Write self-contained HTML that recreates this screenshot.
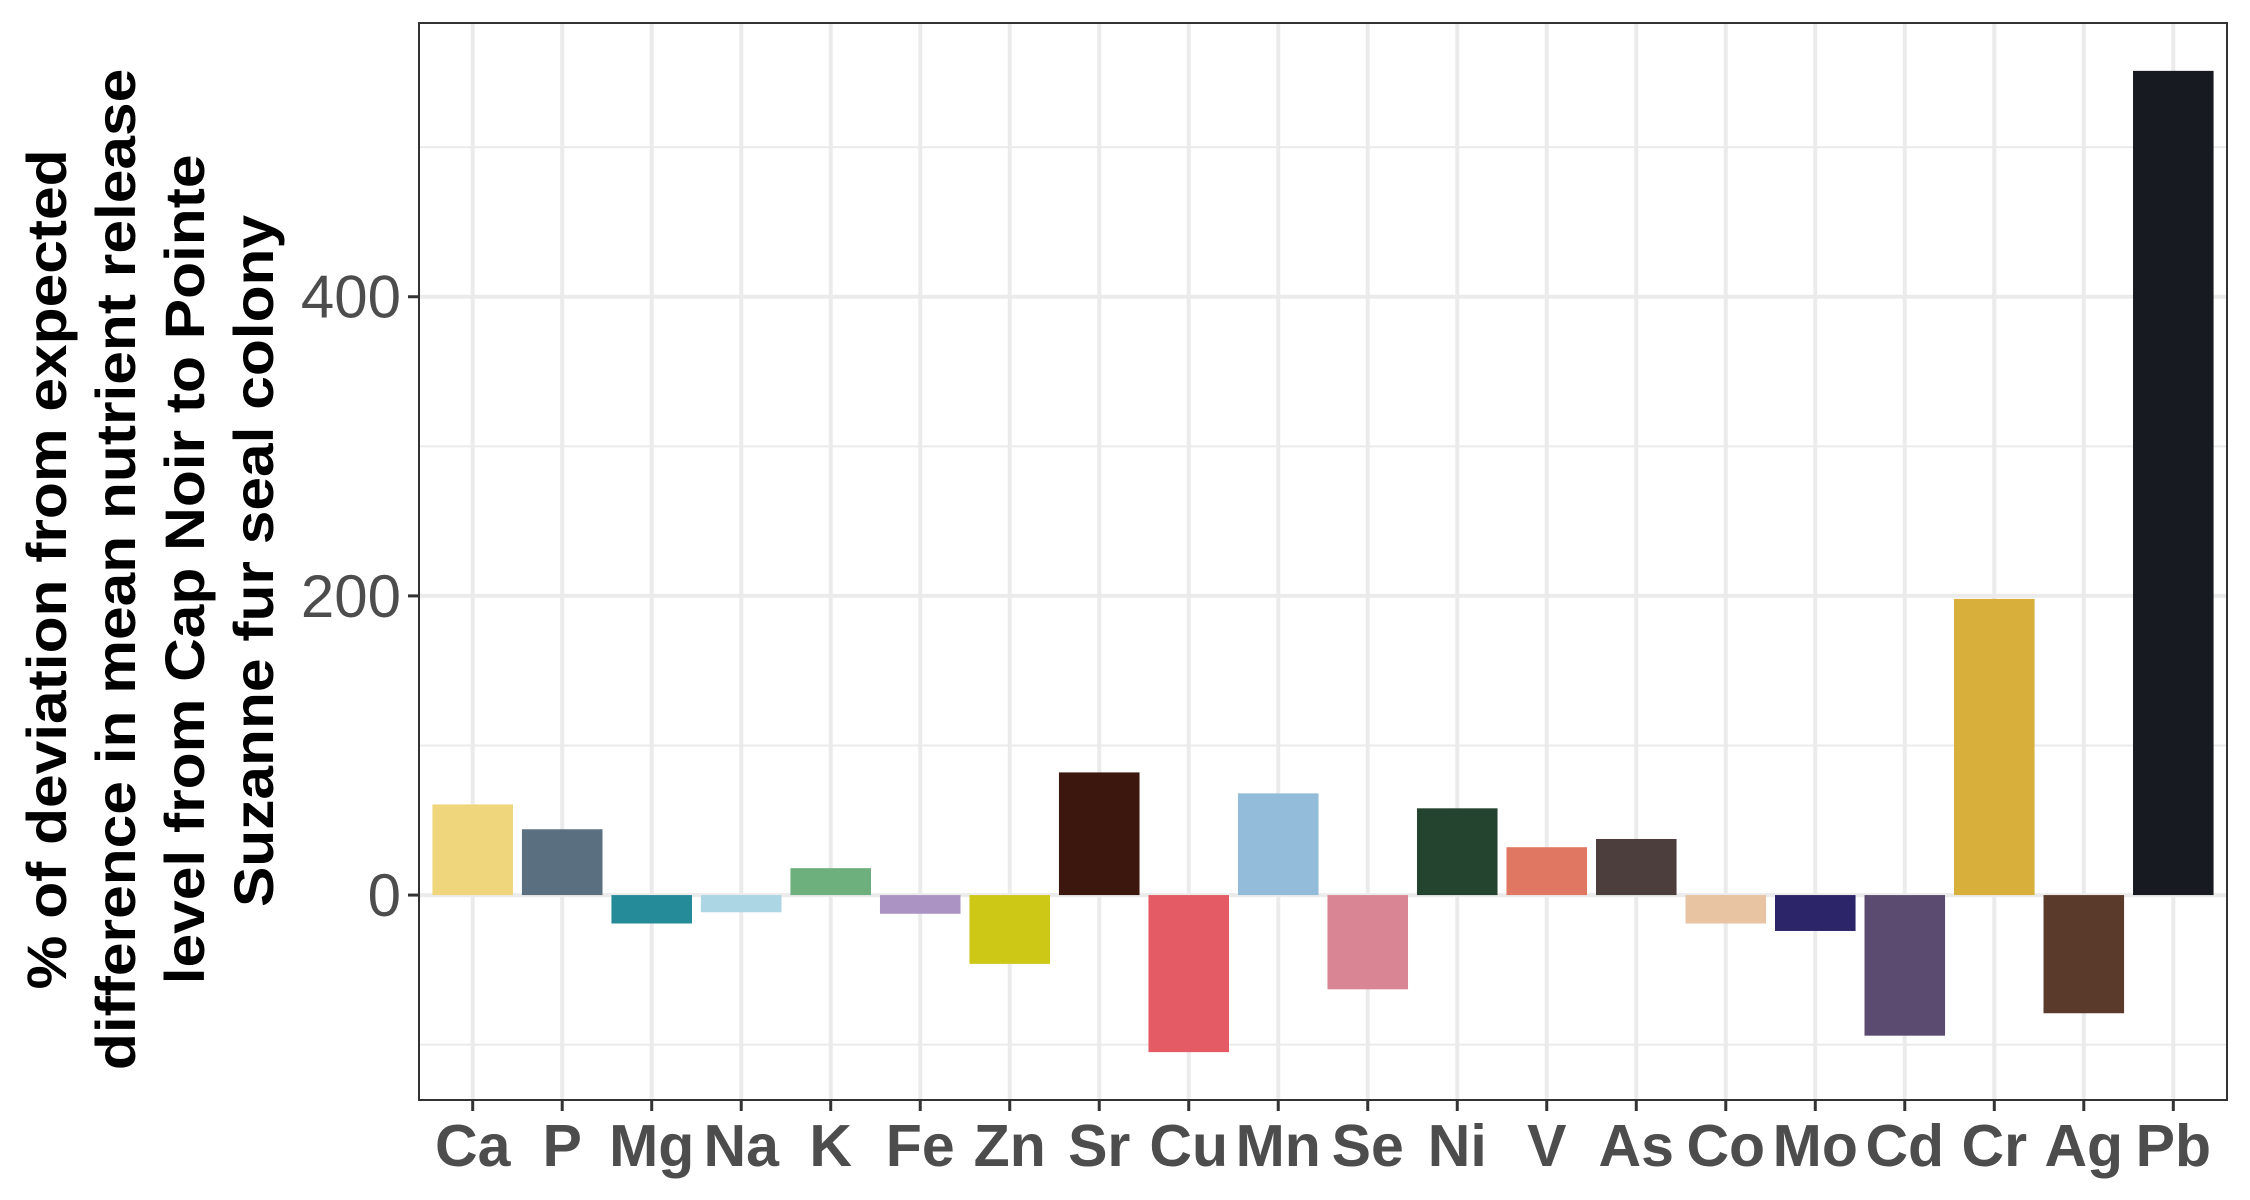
<!DOCTYPE html>
<html><head><meta charset="utf-8"><style>
body{margin:0;background:#fff}
svg{display:block}
</style></head><body>
<svg id="chart" width="2250" height="1200" xmlns="http://www.w3.org/2000/svg" font-family="Liberation Sans, sans-serif">
<rect width="2250" height="1200" fill="#fff"/>
<g id="grid"></g>
<g id="bars"></g>
<rect x="419" y="23" width="1808" height="1077" fill="none" stroke="#333" stroke-width="2"/>
<g id="axes"></g>
<text transform="translate(167,561) rotate(-90) scale(1.08,1)" text-anchor="middle" font-weight="bold" font-size="56" fill="#000">
<tspan x="0" y="-101">% of deviation from expected</tspan>
<tspan x="0" y="-32">difference in mean nutrient release</tspan>
<tspan x="0" y="37">level from Cap Noir to Pointe</tspan>
<tspan x="0" y="106">Suzanne fur seal colony</tspan>
</text>
</svg>
<script>
const categories=["Ca","P","Mg","Na","K","Fe","Zn","Sr","Cu","Mn","Se","Ni","V","As","Co","Mo","Cd","Cr","Ag","Pb"];
const values=[60.6,44,-19,-11.5,18,-12.5,-46,82,-105,68,-63,58,32,37.5,-19,-24,-94,198,-79,551];
const colors=["#efd67c","#5a6f80","#258b98","#acd6e3","#6db07e","#ab94c3","#cdc816","#3c170d","#e45a65","#93bbda","#d98593","#25442f","#e07762","#4b3e3c","#e8c4a2","#2c2569","#5c4b71","#d8af3b","#5a3b2b","#171a20"];
const majorTicks=[0,200,400];
const minorTicks=[-100,100,300,500];
const tickLabels=["0","200","400"];
const NS="http://www.w3.org/2000/svg";
const X0=419,X1=2227,Y0=23,Y1=1100,yMin=-137,yMax=583;
const n=categories.length, step=(X1-X0)/(n-1+1.2);
function xScale(i){return X0+step*(0.6+i);}
function yScale(v){return Y1-(v-yMin)/(yMax-yMin)*(Y1-Y0);}
function mk(tag,attrs,parent){const e=document.createElementNS(NS,tag);for(const k in attrs)e.setAttribute(k,attrs[k]);parent.appendChild(e);return e;}
const grid=document.getElementById('grid'),bars=document.getElementById('bars'),axes=document.getElementById('axes');
minorTicks.forEach(v=>{const l=mk('line',{x1:X0,x2:X1,y1:yScale(v),y2:yScale(v),stroke:'#ebebeb','stroke-width':2},grid);

});
majorTicks.forEach(v=>{const l=mk('line',{x1:X0,x2:X1,y1:yScale(v),y2:yScale(v),stroke:'#ebebeb','stroke-width':4},grid);

});
categories.forEach((c,i)=>{const l=mk('line',{x1:xScale(i),x2:xScale(i),y1:Y0,y2:Y1,stroke:'#ebebeb','stroke-width':4},grid);

});
const bw=step*0.9;
categories.forEach((c,i)=>{const v=values[i];const y=Math.min(yScale(v),yScale(0));const h=Math.abs(yScale(v)-yScale(0));
const r=mk('rect',{x:xScale(i)-bw/2,y:y,width:bw,height:h,fill:colors[i]},bars);

});
majorTicks.forEach((v,i)=>{mk('line',{x1:X0-11,x2:X0,y1:yScale(v),y2:yScale(v),stroke:'#333','stroke-width':3},axes);
const t=mk('text',{x:X0-18,y:yScale(v)+21,'text-anchor':'end','font-size':60,fill:'#4d4d4d'},axes);
t.textContent=tickLabels[i];

});
categories.forEach((c,i)=>{mk('line',{x1:xScale(i),x2:xScale(i),y1:Y1,y2:Y1+11,stroke:'#333','stroke-width':3},axes);
const t=mk('text',{x:xScale(i),y:1166,'text-anchor':'middle','font-size':59,'font-weight':'bold',fill:'#4d4d4d'},axes);
t.textContent=c;

});
</script>
</body></html>
